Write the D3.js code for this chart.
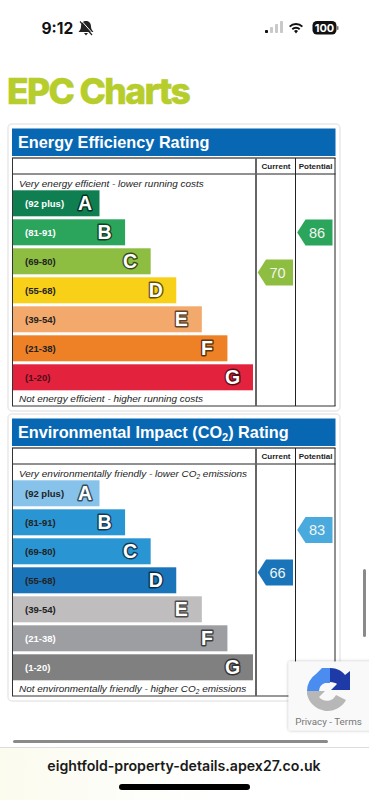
<!DOCTYPE html>
<html>
<head>
<meta charset="utf-8">
<style>
	html, body { margin: 0; padding: 0; background: #fff; }
	svg { display: block; }
	text { font-family: "Liberation Sans", Arial, sans-serif; }
</style>
<script src="https://cdn.jsdelivr.net/npm/d3@7"></script>
</head>
<body>
<div id="chart"></div>
<script>
// ---------- DATA ----------
const bandLetters = ["A", "B", "C", "D", "E", "F", "G"];
const bandRanges = ["(92 plus)", "(81-91)", "(69-80)", "(55-68)", "(39-54)", "(21-38)", "(1-20)"];
const columns = ["Current", "Potential"];

const energyColors = ["#0f7f52", "#2ba45c", "#8dbd41", "#f7d017", "#f3a96c", "#ee8126", "#e3223e"];
const energyLabelColors = ["#fff", "#fff", "#222", "#222", "#222", "#222", "#4a0d18"];
const energyScores = [70, 86];
const energyScoreColors = ["#8dbd41", "#2ba45c"];

const co2Colors = ["#86c2e9", "#2a95d3", "#2a95d3", "#1a74b9", "#bfbdbd", "#9c9ea1", "#808080"];
const co2LabelColors = ["#222", "#222", "#222", "#222", "#222", "#fff", "#fff"];
const co2Scores = [66, 83];
const co2ScoreColors = ["#1a74b9", "#4aa9dd"];

const width = 369;
const height = 800;

const svg = d3
	.select("#chart")
	.append("svg")
	.attr("width", width)
	.attr("height", height);

// ---------- SCALES ----------
const xBar = d3.scaleLinear().domain([0, 6]).range([99.5, 253]);
const yBand = d3
	.scaleBand()
	.domain(bandLetters)
	.range([190.3, 390.3])
	.paddingInner(3 / 29)
	.paddingOuter(0);
const yScore = d3.scaleLinear().domain([100, 0]).range([197.5, 447.5]);
const xColumn = d3.scaleBand().domain(columns).range([256, 335]);

// ---------- PAGE TITLE ----------
svg.append("text")
	.attr("x", 7)
	.attr("y", 104)
	.attr("fill", "#b6cd2b")
	.attr("stroke", "#b6cd2b")
	.attr("stroke-width", 0.5)
	.style("font-family", "Inter")
	.style("font-weight", 800)
	.style("font-size", "35.5px")
	.style("letter-spacing", "-1.6px")
	.text("EPC Charts");

// ---------- CHARTS ----------
function drawChart(offset, opts) {
	const g = svg.append("g").attr("transform", `translate(0, ${offset})`);

	g.append("rect")
		.attr("x", 8)
		.attr("y", 124)
		.attr("width", 332)
		.attr("height", 287)
		.attr("rx", 4)
		.attr("fill", "#fff")
		.attr("stroke", "#e9e9e9")
		.attr("stroke-width", 1.5);

	g.append("rect")
		.attr("x", 12)
		.attr("y", 128.5)
		.attr("width", 323.5)
		.attr("height", 27.5)
		.attr("fill", "#0867b3");

	const title = g
		.append("text")
		.attr("x", 18)
		.attr("y", 147.5)
		.attr("fill", "#fff")
		.style("font-weight", "bold")
		.style("font-size", "16.25px");
	opts.title.forEach((part) => {
		const t = title.append("tspan").text(part.text);
		if (part.sub) t.attr("dy", 3).style("font-size", "11px");
		if (part.after) t.attr("dy", -3);
	});

	// table frame
	const lines = [
		[12, 158, 335.5, 158, "#555", 1.5],
		[12, 174, 335.5, 174, "#222", 1],
		[12, 406, 335.5, 406, "#333", 1],
		[12.5, 158, 12.5, 406, "#333", 1],
		[256, 158, 256, 406, "#666", 2],
		[295.5, 158, 295.5, 406, "#222", 1],
		[335, 158, 335, 406, "#222", 1],
	];
	g.selectAll(".frame")
		.data(lines)
		.enter()
		.append("line")
		.classed("frame", true)
		.attr("x1", (d) => d[0])
		.attr("y1", (d) => d[1])
		.attr("x2", (d) => d[2])
		.attr("y2", (d) => d[3])
		.attr("stroke", (d) => d[4])
		.attr("stroke-width", (d) => d[5]);

	g.selectAll(".col-label")
		.data(columns)
		.enter()
		.append("text")
		.classed("col-label", true)
		.attr("x", (d) => xColumn(d) + xColumn.bandwidth() / 2 + 0.3)
		.attr("y", 169)
		.attr("text-anchor", "middle")
		.attr("fill", "#222")
		.style("font-weight", "bold")
		.style("font-size", "8px")
		.text((d) => d);

	italicLine(g, opts.top, 186.5);
	italicLine(g, opts.bottom, 401.5);

	// bars
	g.selectAll(".bar")
		.data(bandLetters)
		.enter()
		.append("rect")
		.classed("bar", true)
		.attr("x", 13)
		.attr("y", (d) => yBand(d))
		.attr("width", (d, i) => xBar(i) - 13)
		.attr("height", yBand.bandwidth())
		.attr("fill", (d, i) => opts.colors[i]);

	g.selectAll(".band-range")
		.data(bandRanges)
		.enter()
		.append("text")
		.classed("band-range", true)
		.attr("x", 25)
		.attr("y", (d, i) => yBand(bandLetters[i]) + yBand.bandwidth() / 2 + 3.4)
		.attr("fill", (d, i) => opts.labelColors[i])
		.style("font-weight", "bold")
		.style("font-size", "9.5px")
		.text((d) => d);

	g.selectAll(".band-letter")
		.data(bandLetters)
		.enter()
		.append("text")
		.classed("band-letter", true)
		.attr("x", (d, i) => xBar(i) - (i === 0 ? 14.5 : 20.5))
		.attr("y", (d) => yBand(d) + yBand.bandwidth() / 2 + 6.8)
		.attr("text-anchor", "middle")
		.attr("fill", "#fff")
		.attr("stroke", (d, i) => d3.color(opts.colors[i]).darker(2.6))
		.attr("stroke-width", 2.8)
		.attr("stroke-linejoin", "round")
		.attr("paint-order", "stroke")
		.style("font-weight", "bold")
		.style("font-size", "19.5px")
		.text((d) => d);

	// score arrows
	const arrow = g
		.selectAll(".score")
		.data(opts.scores)
		.enter()
		.append("g")
		.classed("score", true)
		.attr("transform", (d, i) => `translate(${xColumn(columns[i])}, ${yScore(d)})`);

	arrow
		.append("path")
		.attr("d", () => {
			const p = d3.path();
			p.moveTo(1.7, 0);
			p.lineTo(10, -13);
			p.lineTo(37, -13);
			p.lineTo(37, 13);
			p.lineTo(10, 13);
			p.closePath();
			return p.toString();
		})
		.attr("fill", (d, i) => opts.scoreColors[i]);

	arrow
		.append("text")
		.attr("x", 21.5)
		.attr("y", 5.3)
		.attr("text-anchor", "middle")
		.attr("fill", "#f2f5ee")
		.style("font-size", "14.5px")
		.text((d) => d);
}

function italicLine(g, parts, y) {
	const t = g
		.append("text")
		.attr("x", 19)
		.attr("y", y)
		.attr("fill", "#222")
		.style("font-style", "italic")
		.style("font-size", "9.95px");
	parts.forEach((part) => {
		const s = t.append("tspan").text(part.text);
		if (part.sub) s.attr("dy", 2).style("font-size", "6.5px");
		if (part.after) s.attr("dy", -2);
	});
}

drawChart(0, {
	title: [{ text: "Energy Efficiency Rating" }],
	top: [{ text: "Very energy efficient - lower running costs" }],
	bottom: [{ text: "Not energy efficient - higher running costs" }],
	colors: energyColors,
	labelColors: energyLabelColors,
	scores: energyScores,
	scoreColors: energyScoreColors,
});

drawChart(290, {
	title: [
		{ text: "Environmental Impact (CO" },
		{ text: "2", sub: true },
		{ text: ") Rating", after: true },
	],
	top: [
		{ text: "Very environmentally friendly - lower CO" },
		{ text: "2", sub: true },
		{ text: " emissions", after: true },
	],
	bottom: [
		{ text: "Not environmentally friendly - higher CO" },
		{ text: "2", sub: true },
		{ text: " emissions", after: true },
	],
	colors: co2Colors,
	labelColors: co2LabelColors,
	scores: co2Scores,
	scoreColors: co2ScoreColors,
});

// ---------- PHONE CHROME ----------
const chrome = svg.append("g");

chrome.append("text")
	.attr("x", 41.5)
	.attr("y", 33.5)
	.attr("fill", "#111")
	.style("font-family", "Inter")
	.style("font-weight", 700)
	.style("font-size", "15.5px")
	.text("9:12");

// muted bell
chrome.append("path")
	.attr("d", "M86 21c-3.500 0-5 2.500-5 5.500 0 3-1.500 4-2.500 5.500h15c-1-1.500-2.500-2.500-2.500-5.500 0-3-1.500-5.500-5-5.500zM84 33h4l-2 2.500z")
	.attr("fill", "#222");
chrome.append("line")
	.attr("x1", 80).attr("y1", 21.5).attr("x2", 92).attr("y2", 35)
	.attr("stroke", "#222").attr("stroke-width", 1.2);
chrome.append("line")
	.attr("x1", 81.2).attr("y1", 20.5).attr("x2", 93.2).attr("y2", 34)
	.attr("stroke", "#fff").attr("stroke-width", 1);

// signal bars
[0, 1, 2, 3].forEach((i) => {
	const h = 3 + i * 3;
	chrome.append("rect")
		.attr("x", 265 + i * 5)
		.attr("y", 33 - h)
		.attr("width", 3)
		.attr("height", h)
		.attr("rx", 0.8)
		.attr("fill", i === 0 ? "#111" : "#c9c9c9");
});

// wifi
const wifiArc = d3.arc().startAngle(-0.78).endAngle(0.78);
[[9, 7], [5.2, 3.3]].forEach((r) => {
	chrome.append("path")
		.attr("transform", "translate(296, 33)")
		.attr("d", wifiArc({ innerRadius: r[1] + 1, outerRadius: r[0] + 1 }))
		.attr("fill", "#111");
});
chrome.append("path").attr("d", "M296 33.500l-2-2.500a3 3 0 0 1 4 0z").attr("fill", "#111");

// battery
chrome.append("rect")
	.attr("x", 312.5).attr("y", 21).attr("width", 24).attr("height", 13.5).attr("rx", 4.5)
	.attr("fill", "#111");
chrome.append("rect")
	.attr("x", 337).attr("y", 26).attr("width", 1.500).attr("height", 4).attr("rx", 0.7)
	.attr("fill", "#777");
chrome.append("text")
	.attr("x", 324.5).attr("y", 32)
	.attr("text-anchor", "middle")
	.attr("fill", "#fff")
	.style("font-family", "Inter")
	.style("font-weight", 700)
	.style("font-size", "11px")
	.text("100");

// scroll bars
chrome.append("rect")
	.attr("x", 363).attr("y", 569).attr("width", 3).attr("height", 68).attr("rx", 1.5)
	.attr("fill", "#8a8a8a");
chrome.append("rect")
	.attr("x", 13).attr("y", 740).attr("width", 315).attr("height", 3).attr("rx", 1.5)
	.attr("fill", "#8a8a8a");

// recaptcha badge
const defs = svg.append("defs");
const shadow = defs.append("filter").attr("id", "badgeShadow")
	.attr("x", "-20%").attr("y", "-20%").attr("width", "140%").attr("height", "140%");
shadow.append("feDropShadow")
	.attr("dx", 0).attr("dy", 0).attr("stdDeviation", 1.5)
	.attr("flood-color", "#000").attr("flood-opacity", 0.3);
const urlFade = defs.append("linearGradient").attr("id", "urlFade");
urlFade.append("stop").attr("offset", "0%").attr("stop-color", "#fbfbee");
urlFade.append("stop").attr("offset", "30%").attr("stop-color", "#fdfdf8");
urlFade.append("stop").attr("offset", "60%").attr("stop-color", "#fff");

chrome.append("rect")
	.attr("x", 288.5).attr("y", 661.5).attr("width", 90).attr("height", 69).attr("rx", 2)
	.attr("fill", "#f9f9f9")
	.attr("filter", "url(#badgeShadow)");

const logo = chrome.append("g").attr("transform", "translate(328, 691)");
logo.append("path")
	.attr("d", "M-21 0A21 21 0 0 1-12-17L-6-23L2-23L2-8L-3-8A9 9 0 0 0-9 0z")
	.attr("fill", "#4a8cf0");
logo.append("path")
	.attr("d", "M2-23C9-23 14-20 17-16L22-20L22-1L3-1L9-7C8-8 5-9 2-9z")
	.attr("fill", "#1d3aa6");
logo.append("path")
	.attr("d", "M-21 0L-3 0L-9 6A10 10 0 0 0 8 4L18 9A21 21 0 0 1-21 3z")
	.attr("fill", "#b7b7b7");

chrome.append("text")
	.attr("x", 328.5).attr("y", 724.5)
	.attr("text-anchor", "middle")
	.attr("fill", "#777")
	.style("font-family", "Roboto")
	.style("font-size", "9.8px")
	.text("Privacy - Terms");

// url bar
chrome.append("rect")
	.attr("x", 0).attr("y", 748).attr("width", width).attr("height", 52)
	.attr("fill", "url(#urlFade)");
chrome.append("line")
	.attr("x1", 0).attr("y1", 747.5).attr("x2", width).attr("y2", 747.5)
	.attr("stroke", "#dcdcdc");
chrome.append("text")
	.attr("x", 184).attr("y", 771)
	.attr("text-anchor", "middle")
	.attr("fill", "#1a1a1a")
	.style("font-family", "Inter")
	.style("font-weight", 600)
	.style("font-size", "14.15px")
	.text("eightfold-property-details.apex27.co.uk");
chrome.append("rect")
	.attr("x", 119).attr("y", 784).attr("width", 131).attr("height", 6).attr("rx", 3)
	.attr("fill", "#000");
</script>
</body>
</html>
